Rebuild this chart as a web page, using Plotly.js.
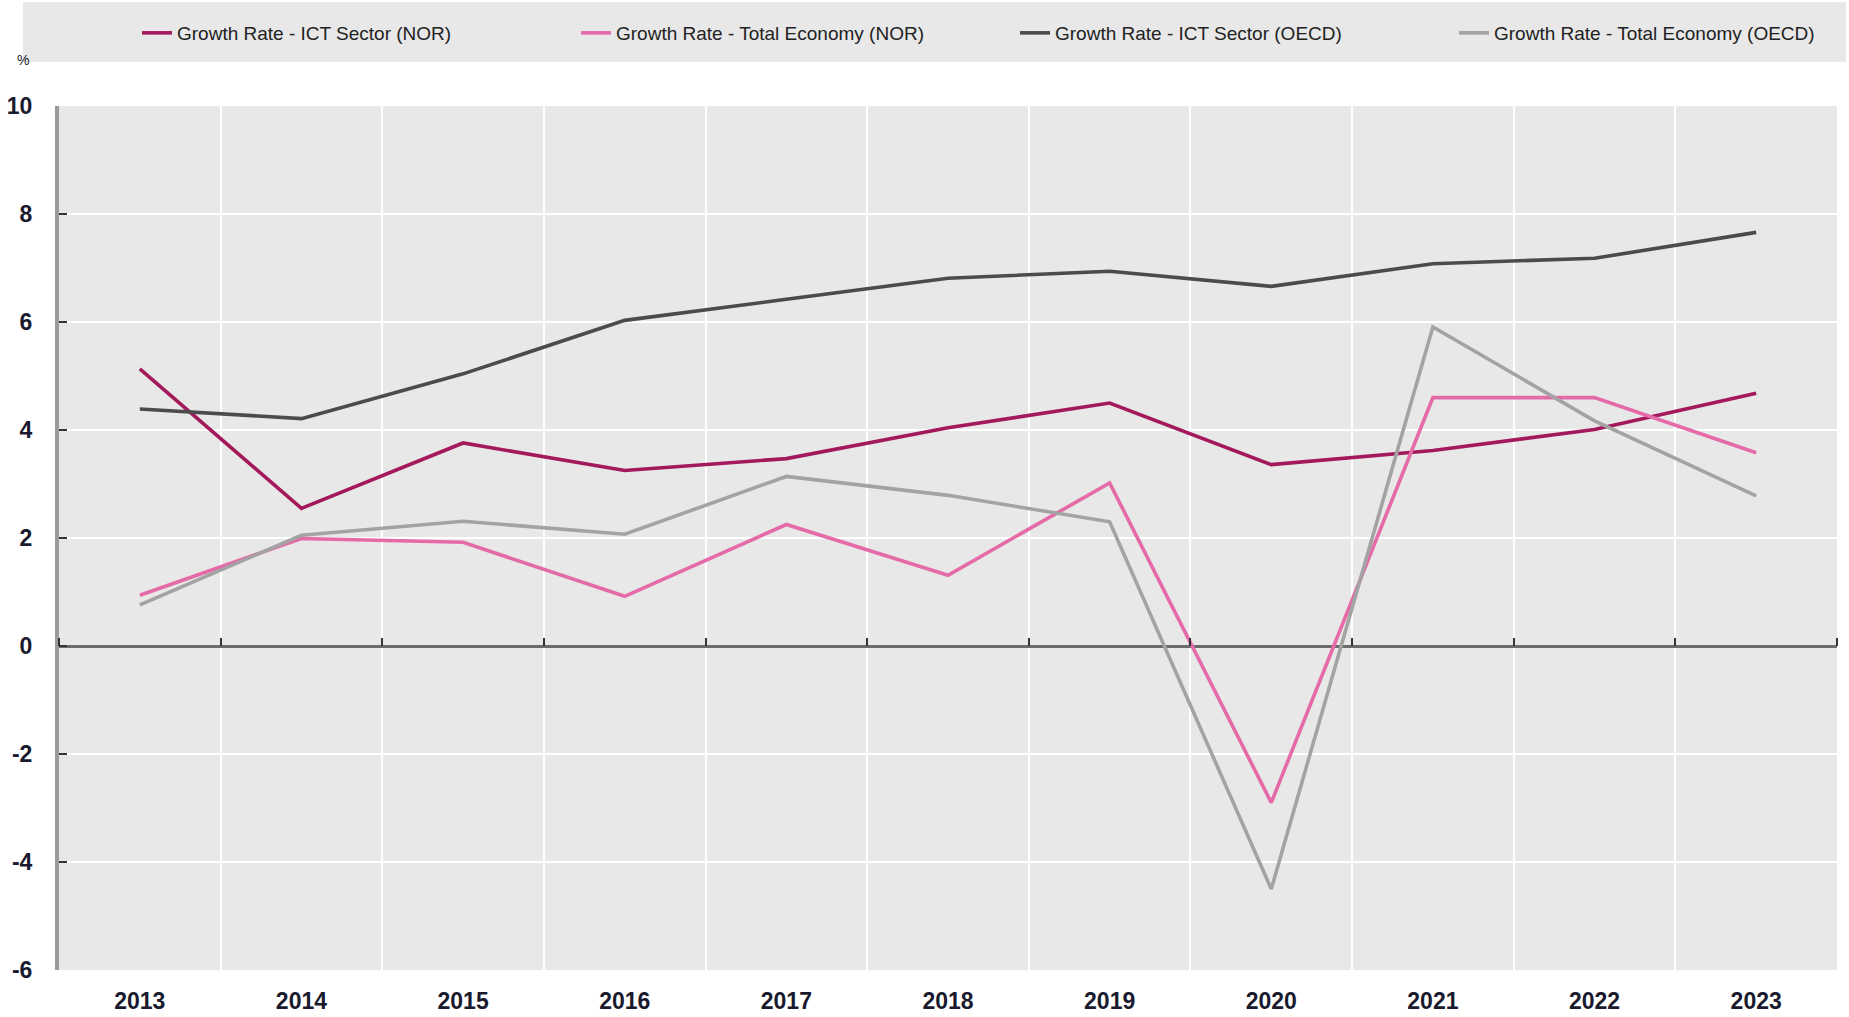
<!DOCTYPE html>
<html>
<head>
<meta charset="utf-8">
<script src="https://cdn.plot.ly/plotly-3.0.1.min.js"></script>
<style>
html,body{margin:0;padding:0;background:#fff;}
#chart{width:1849px;height:1017px;}
</style>
</head>
<body>
<div id="chart"></div>
<script>
const years = ['2013','2014','2015','2016','2017','2018','2019','2020','2021','2022','2023'];
const ictNOR = [5.13, 2.55, 3.76, 3.25, 3.47, 4.04, 4.50, 3.36, 3.62, 4.01, 4.68];
const totalNOR = [0.94, 1.99, 1.92, 0.92, 2.25, 1.31, 3.02, -2.90, 4.60, 4.60, 3.58];
const ictOECD = [4.39, 4.21, 5.04, 6.03, 6.42, 6.81, 6.94, 6.66, 7.08, 7.18, 7.66];
const totalOECD = [0.76, 2.05, 2.31, 2.07, 3.14, 2.79, 2.30, -4.50, 5.91, 4.17, 2.78];
const seriesNames = [
  'Growth Rate - ICT Sector (NOR)',
  'Growth Rate - Total Economy (NOR)',
  'Growth Rate - ICT Sector (OECD)',
  'Growth Rate - Total Economy (OECD)'
];
const yTickVals = [-6, -4, -2, 0, 2, 4, 6, 8, 10];
const yTickText = ['-6', '-4', '-2', '0', '2', '4', '6', '8', '10'];
const unitLabel = '%';

const FONT = 'Liberation Sans Narrow, Arial Narrow, Liberation Sans, Arial, sans-serif';
const colors = ['#a3195b', '#e56aa8', '#4b4b4b', '#a3a3a3'];
const values = [ictNOR, totalNOR, ictOECD, totalOECD];

const traces = values.map((v, i) => ({
  type: 'scatter', mode: 'lines', x: years, y: v, name: seriesNames[i],
  line: {color: colors[i], width: 3.6}, hoverinfo: 'x+y+name'
}));
// helper trace for the tick axis drawn along the zero line
traces.push({type:'scatter', mode:'lines', x: years, y: years.map(() => null),
  xaxis: 'x2', showlegend: false, hoverinfo: 'skip'});

const layout = {
  width: 1849, height: 1017,
  margin: {l: 59, r: 12, t: 106, b: 47, autoexpand: false},
  paper_bgcolor: '#ffffff',
  plot_bgcolor: '#e8e8e8',
  font: {family: FONT, color: '#1a1a2e'},
  showlegend: true,
  legend: {
    orientation: 'h', x: 78/1778, xanchor: 'left', y: 1 + 73/864, yanchor: 'middle',
    bgcolor: 'rgba(0,0,0,0)', font: {family: FONT, size: 19, color: '#222'},
    entrywidth: 394, entrywidthmode: 'pixels', itemwidth: 30, traceorder: 'normal'
  },
  xaxis: {
    type: 'category', range: [-0.5, 10.5], tickson: 'boundaries',
    showgrid: true, gridcolor: '#ffffff', gridwidth: 2,
    ticks: '', showline: false, zeroline: false,
    tickfont: {family: FONT, size: 23, color: '#1a1a2e', weight: 'bold'},
    ticklabelstandoff: 15, fixedrange: true
  },
  xaxis2: {
    type: 'category', overlaying: 'x', anchor: 'free', position: 0.375, side: 'top',
    range: [-0.5, 10.5], tickson: 'boundaries', ticks: 'outside', ticklen: 8,
    tickwidth: 2, tickcolor: '#333', showticklabels: false, showgrid: false,
    showline: false, zeroline: false, fixedrange: true
  },
  yaxis: {
    range: [-6, 10], tickmode: 'array', tickvals: yTickVals, ticktext: yTickText,
    showgrid: true, gridcolor: '#ffffff', gridwidth: 2,
    zeroline: true, zerolinecolor: '#6b6b6b', zerolinewidth: 3,
    showline: true, linecolor: '#9a9a9a', linewidth: 4,
    ticks: 'inside', ticklen: 8, tickwidth: 2, tickcolor: '#333',
    tickfont: {family: FONT, size: 23, color: '#1a1a2e', weight: 'bold'},
    ticklabelstandoff: 18, fixedrange: true
  },
  shapes: [{
    type: 'rect', xref: 'paper', yref: 'paper', layer: 'below',
    x0: -36/1778, x1: 1787/1778, y0: 1 + 44/864, y1: 1 + 104/864,
    fillcolor: '#e8e8e8', line: {width: 0}
  }],
  annotations: [{
    text: unitLabel, xref: 'paper', yref: 'paper', showarrow: false,
    x: -44/1778, y: 1 + 46/864, xanchor: 'left', yanchor: 'middle',
    font: {family: FONT, size: 14, color: '#1a1a2e'}
  }]
};

Plotly.newPlot('chart', traces, layout, {displayModeBar: false});
</script>
</body>
</html>
